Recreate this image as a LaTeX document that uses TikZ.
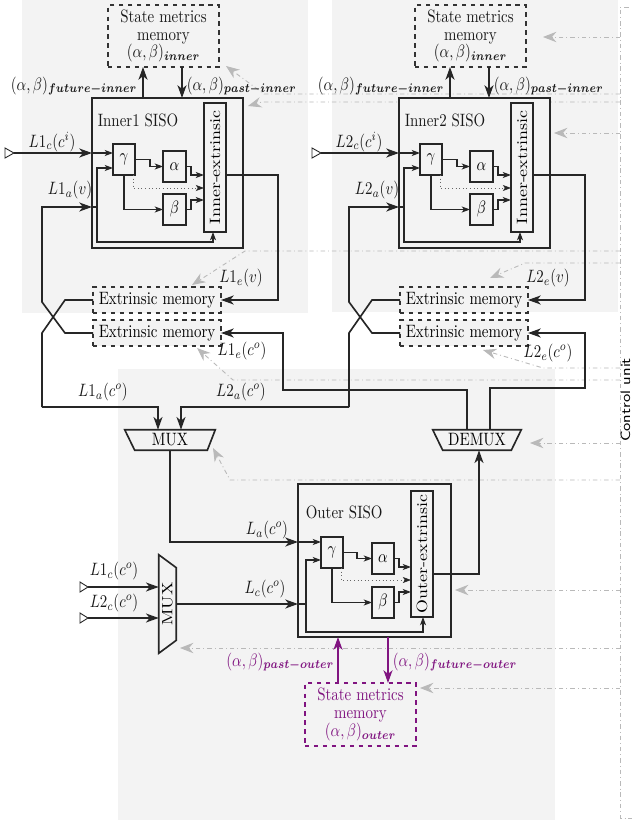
\documentclass[tikz,border=0pt]{standalone}
\usepackage{amsmath}
\usetikzlibrary{arrows.meta}
\definecolor{panel}{RGB}{243,243,243}
\definecolor{ctrl}{RGB}{185,185,185}
\definecolor{purp}{RGB}{128,20,128}
\newcommand\st[1]{\scalebox{1}[1.2]{#1}}
\newcommand\sr[1]{\scalebox{1.2}[1]{#1}}
\def\pxu{*0.67pt}
\tikzset{
  txt/.style={yscale=1.2, inner sep=1pt, text=black!90},
  blk/.style={draw=black!85, line width=1.1pt, fill=panel, inner sep=0pt, outer sep=0pt},
  sml/.style={draw=black!85, line width=0.75pt, fill=panel, inner sep=0pt, outer sep=0pt},
  dmem/.style={draw=black!80, dashed, line width=1pt, fill=panel, inner sep=0pt, outer sep=0pt},
  sz/.style 2 args={minimum width=#1*0.67pt, minimum height=#2*0.67pt},
  wire/.style={line width=1.1pt, draw=black!85},
  arr/.style={wire, -{Stealth[length=8.5pt,width=6pt,inset=2.4pt]}},
  sarr/.style={line width=0.7pt, draw=black!85, -{Stealth[length=5.5pt,width=4pt,inset=1.4pt]}},
  darr/.style={line width=0.4pt, draw=black!60, dotted, -{Stealth[length=5.5pt,width=4pt,inset=1.4pt,color=black!85]}},
  parr/.style={line width=1.1pt, draw=purp, -{Stealth[length=8.5pt,width=6pt,inset=2.4pt]}},
  ctl/.style={draw=ctrl, line width=0.6pt, dash dot},
  carr/.style={ctl, -{Stealth[length=9pt,width=7pt,inset=3pt,fill=ctrl]}},
  tri/.style={line width=0.6pt, draw=black!85, fill=white}
}
\newcommand\innerblock[3]{%
\begin{scope}[xshift=#3\pxu]
\node[blk, sz={151}{150}] (inner#1) at (167.5,173) {};
\node[txt, anchor=west] at (96,120) {Inner#2 SISO};
\node[dmem, sz={111}{62}] (smm#1) at (163.5,36) {};
\node[txt, align=center] at (smm#1) {State metrics\\[-2pt]memory\\[-2pt]$(\alpha,\beta)_{\boldsymbol{inner}}$};
\node[sml, sz={22}{31}] (g#1) at (124,159.5) {\st{$\gamma$}};
\node[sml, sz={23}{31}] (a#1) at (174.5,166.5) {\st{$\alpha$}};
\node[sml, sz={23}{31}] (b#1) at (174.5,209.5) {\st{$\beta$}};
\node[sml, sz={22}{129}] (ie#1) at (215,167.5) {};
\node[rotate=90, inner sep=0pt] at (ie#1) {\sr{Inner-extrinsic}};
\node[dmem, sz={128}{26}] (ema#1) at (157,300) {\st{Extrinsic memory}};
\node[dmem, sz={128}{26}] (emb#1) at (157,333) {\st{Extrinsic memory}};
% state metrics exchange
\coordinate (xf#1) at (143,0);
\coordinate (xp#1) at (182,0);
\draw[arr] (inner#1.north -| xf#1) -- (smm#1.south -| xf#1);
\draw[arr] (smm#1.south -| xp#1) -- (inner#1.north -| xp#1);
\node[txt, anchor=east] at (139,86) {$(\alpha,\beta)_{\boldsymbol{future-inner}}$};
\node[txt, anchor=west] at (185,86) {$(\alpha,\beta)_{\boldsymbol{past-inner}}$};
% channel input
\coordinate (cin#1) at (14,153);
\draw[tri] (cin#1) -- (5,148) -- (5,158) -- cycle;
\draw[arr] (cin#1) -- (inner#1.west |- cin#1);
\draw[sarr] (inner#1.west |- cin#1) -- (g#1.west |- cin#1);
\node[txt] at (52,142) {$L#2_c(c^i)$};
% a-priori input
\coordinate (ya#1) at (42,207);
\coordinate (jn#1) at (97,207);
\coordinate (gl#1) at (97,168);
\draw[arr] (emb#1.west) -- (65,333) -- (42,302) -- (ya#1) -- (inner#1.west |- ya#1);
\node[txt] at (70,190) {$L#2_a(v)$};
\draw[wire] (inner#1.west |- ya#1) -- (jn#1);
\draw[sarr] (jn#1) -- (gl#1) -- (g#1.west |- gl#1);
\draw[sarr] (jn#1) -- (97,242) -- (213,242) -- ([xshift=-2\pxu]ie#1.south);
% internal
\coordinate (dt#1) at (133,188);
\coordinate (ai#1) at (191,175);
\coordinate (bi#1) at (191,200);
\draw[sarr] (g#1.east) -- (150,159.5) -- (150,166.5) -- (a#1.west);
\draw[sarr] (g#1.south) -- (g#1.south |- b#1) -- (b#1.west);
\draw[darr] ([xshift=9\pxu]g#1.south) -- (dt#1) -- (ie#1.west |- dt#1);
\draw[sarr] (a#1.east) -- (191,166.5) -- (ai#1) -- (ie#1.west |- ai#1);
\draw[sarr] (b#1.east) -- (191,209.5) -- (bi#1) -- (ie#1.west |- bi#1);
% extrinsic output
\draw[arr] (ie#1.east |- ai#1) -- (278,175) -- (278,300) -- (ema#1.east);
\node[txt] at (241,278) {$L#2_e(v)$};
% towards MUX
\coordinate (mx#1) at (42,407);
\draw[wire] (ema#1.west) -- (65,300) -- (42,333) -- (mx#1);
\end{scope}}
\begin{document}
\begin{tikzpicture}[x=0.67pt,y=-0.67pt]
\useasboundingbox (0,0) rectangle (631,822);
% panels
\fill[panel] (22,0) rectangle (308,313);
\fill[panel] (332,0) rectangle (618,312);
\fill[panel] (118,369) rectangle (555,820);
% control unit
\draw[ctl] (640,7) -- (620,7) -- (620,818) -- (640,818);
\node[rotate=90, inner sep=0pt, anchor=south] (cu) at (630.5,400) {\sr{\small\sffamily Control unit}};
\draw[carr] (620,37) -- (543,37);
\draw[carr] (620,94) -- (264,94) -- (226,66);
\draw[carr] (620,102) -- (262,102) -- (248,106);
\draw[carr] (620,133) -- (554,133);
\draw[carr] (620,251) -- (245,251) -- (192,285);
\draw[carr] (620,263) -- (525,263) -- (490,278);
\draw[carr] (620,368) -- (543,368) -- (483,350);
\draw[carr] (620,380) -- (233,380) -- (197,348);
\draw[carr] (620,443) -- (530,443);
\draw[carr] (620,480) -- (230,480) -- (213,448);
\draw[carr] (620,590) -- (455,590);
\draw[carr] (620,648) -- (180,648);
\draw[carr] (620,688) -- (420,688);
% inner decoders
\innerblock{1}{1}{0}
\innerblock{2}{2}{307}
% MUX / DEMUX
\node[inner sep=0pt, sz={90}{20}] (mux) at (170,440) {\st{MUX}};
\draw[wire] (mux.north west) -- (mux.north east) -- ([xshift=-8\pxu]mux.south east) -- ([xshift=10\pxu]mux.south west) -- cycle;
\node[inner sep=0pt, sz={88}{20}] (dmx) at (477,440) {\st{DEMUX}};
\draw[wire] (dmx.north west) -- (dmx.north east) -- ([xshift=-10\pxu]dmx.south east) -- ([xshift=10\pxu]dmx.south west) -- cycle;
\coordinate (mi1) at ([xshift=-12\pxu]mux.north);
\coordinate (mi2) at ([xshift=11\pxu]mux.north);
\draw[arr] (mx1) -- (mx1 -| mi1) -- (mi1);
\draw[arr] (mx2) -- (mx2 -| mi2) -- (mi2);
\node[txt] at (103,392) {$L1_a(c^o)$};
\node[txt] at (241,392) {$L2_a(c^o)$};
\coordinate (dL) at ([xshift=-10\pxu]dmx.north);
\coordinate (dR) at ([xshift=13\pxu]dmx.north);
\draw[arr] (dL) |- (283,390) |- (emb1.east);
\draw[arr] (dR) |- (585,388) |- (emb2.east);
\node[txt] at (242,351) {$L1_e(c^o)$};
\node[txt] at (548,353) {$L2_e(c^o)$};
% outer decoder
\node[blk, sz={153}{153}] (outer) at (374.5,560.5) {};
\node[txt, anchor=west] at (304,512) {Outer SISO};
\node[sml, sz={22}{31}] (go) at (332,552.5) {\st{$\gamma$}};
\node[sml, sz={22}{31}] (ao) at (383,558.5) {\st{$\alpha$}};
\node[sml, sz={22}{31}] (bo) at (383,602.5) {\st{$\beta$}};
\node[sml, sz={22}{126}] (oe) at (422,554) {};
\node[rotate=90, inner sep=0pt] at (oe) {\sr{Outer-extrinsic}};
\coordinate (gu) at (298,542);
\draw[arr] (mux.south) |- (gu);
\draw[sarr] (gu) -- (go.west |- gu);
\node[txt] at (267,530) {$L_a(c^o)$};
% input MUX
\node[inner sep=0pt, sz={17}{98}] (muxin) at (167.5,604) {};
\draw[wire] (muxin.north west) -- ([yshift=-13\pxu]muxin.north east) -- ([yshift=13\pxu]muxin.south east) -- (muxin.south west) -- cycle;
\node[rotate=90, inner sep=0pt] at (muxin) {\sr{MUX}};
\coordinate (ti1) at (88,587);
\coordinate (ti2) at (88,618);
\draw[tri] (ti1) -- (80,582) -- (80,592) -- cycle;
\draw[tri] (ti2) -- (80,613) -- (80,623) -- cycle;
\draw[arr] (ti1) -- (muxin.west |- ti1);
\draw[arr] (ti2) -- (muxin.west |- ti2);
\node[txt] at (114,571) {$L1_c(c^o)$};
\node[txt] at (114,603) {$L2_c(c^o)$};
\coordinate (jo) at (306,604);
\coordinate (gd) at (306,560);
\draw[arr] (muxin.east) -- (outer.west |- muxin.east);
\node[txt] at (265,589) {$L_c(c^o)$};
\draw[wire] (outer.west |- muxin.east) -- (jo);
\draw[sarr] (jo) -- (gd) -- (go.west |- gd);
\draw[sarr] (jo) -- (306,632) -- (423,632) -- ([xshift=1\pxu]oe.south);
\coordinate (dto) at (341,580);
\coordinate (aio) at (399,567);
\coordinate (bio) at (399,592);
\draw[sarr] (go.east) -- (357,552.5) -- (357,558.5) -- (ao.west);
\draw[sarr] (go.south) -- (go.south |- bo) -- (bo.west);
\draw[darr] ([xshift=9\pxu]go.south) -- (dto) -- (oe.west |- dto);
\draw[sarr] (ao.east) -- (399,558.5) -- (aio) -- (oe.west |- aio);
\draw[sarr] (bo.east) -- (399,602.5) -- (bio) -- (oe.west |- bio);
\draw[arr] ([yshift=-20\pxu]oe.east) -| ([xshift=2\pxu]dmx.south);
% outer state metrics memory
\node[dmem, draw=purp, sz={111}{63}] (smmo) at (360.5,714.5) {};
\node[txt, text=purp, align=center] at (smmo) {State metrics\\[-2pt]memory\\[-2pt]$(\alpha,\beta)_{\boldsymbol{outer}}$};
\coordinate (xpo) at (338,0);
\coordinate (xfo) at (388,0);
\draw[parr] (smmo.north -| xpo) -- (outer.south -| xpo);
\draw[parr] (outer.south -| xfo) -- (smmo.north -| xfo);
\node[txt, text=purp, anchor=east] at (336,662) {$(\alpha,\beta)_{\boldsymbol{past-outer}}$};
\node[txt, text=purp, anchor=west] at (391,662) {$(\alpha,\beta)_{\boldsymbol{future-outer}}$};
\end{tikzpicture}
\end{document}
